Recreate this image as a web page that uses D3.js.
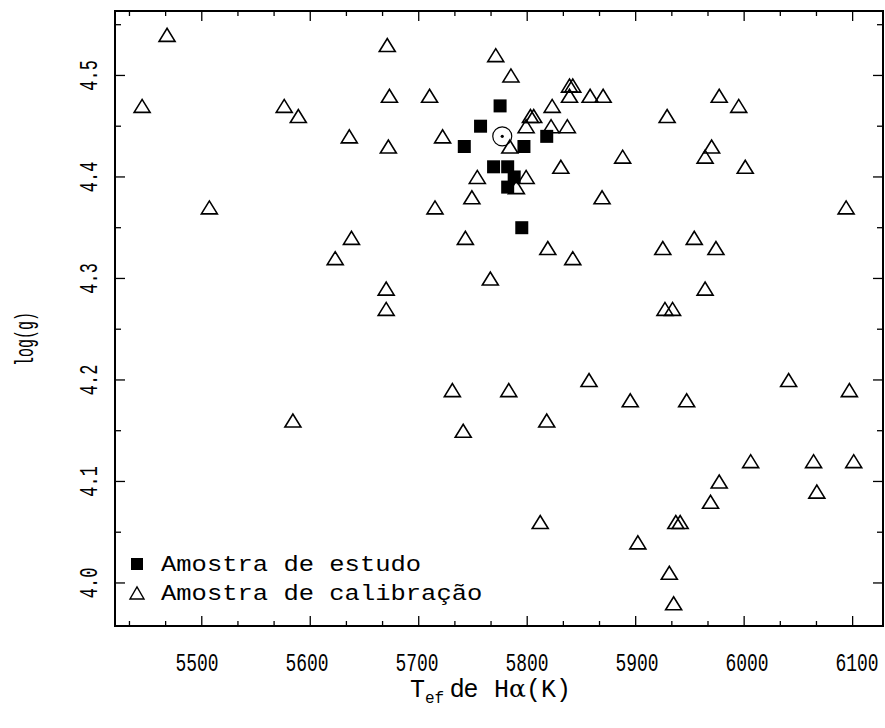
<!DOCTYPE html>
<html>
<head>
<meta charset="utf-8">
<script src="https://cdn.jsdelivr.net/npm/d3@7"></script>
<style>
  body { margin: 0; background: #fff; }
  text { font-family: "Liberation Mono", monospace; fill: #000; }
</style>
</head>
<body>
<div id="chart"></div>
<script>
// amostra de calibração (triângulos)
const calibTeff = [5468, 5445, 5507, 5576, 5589, 5636, 5671, 5673, 5672, 5771,
  5785, 5710, 5839, 5842, 5839, 5858, 5870, 5823, 5803, 5806,
  5799, 5822, 5837, 5929, 5722, 5784, 5888, 5831, 5754, 5799,
  5790, 5749, 5869, 5715, 5977, 5995, 5970, 5964, 6001, 6094,
  5638, 5623, 5670, 5670, 5584, 5743, 5819, 5842, 5766, 5925,
  5954, 5927, 5934, 5731, 5783, 5857, 5895, 5947, 5818, 5974,
  5964, 6041, 6097, 5741, 5812, 5902, 5937, 5941, 5931, 5935,
  6006, 6064, 6101, 5977, 6067, 5969];
const calibLogg = [4.54, 4.47, 4.37, 4.47, 4.46, 4.44, 4.53, 4.48, 4.43, 4.52,
  4.50, 4.48, 4.49, 4.49, 4.48, 4.48, 4.48, 4.47, 4.46, 4.46,
  4.45, 4.45, 4.45, 4.46, 4.44, 4.43, 4.42, 4.41, 4.40, 4.40,
  4.39, 4.38, 4.38, 4.37, 4.48, 4.47, 4.43, 4.42, 4.41, 4.37,
  4.34, 4.32, 4.29, 4.27, 4.16, 4.34, 4.33, 4.32, 4.30, 4.33,
  4.34, 4.27, 4.27, 4.19, 4.19, 4.20, 4.18, 4.18, 4.16, 4.33,
  4.29, 4.20, 4.19, 4.15, 4.06, 4.04, 4.06, 4.06, 4.01, 3.98,
  4.12, 4.12, 4.12, 4.10, 4.09, 4.08];

// amostra de estudo (quadrados)
const studyTeff = [5775, 5757, 5742, 5797, 5818, 5769, 5782, 5788, 5782, 5795];
const studyLogg = [4.47, 4.45, 4.43, 4.43, 4.44, 4.41, 4.41, 4.40, 4.39, 4.35];

// Sol
const sunTeff = 5777, sunLogg = 4.44;

const xMajor = [5500, 5600, 5700, 5800, 5900, 6000, 6100];
const yMajor = [4.0, 4.1, 4.2, 4.3, 4.4, 4.5];
const legendLabels = ["Amostra de estudo", "Amostra de calibração"];

const W = 885, H = 728;
const margin = {top: 11, right: 2, bottom: 102, left: 115};

const svg = d3.select('#chart').append('svg')
    .attr('width', W)
    .attr('height', H);

const x = d3.scaleLinear()
    .domain([5420, 6128])
    .range([margin.left, W - margin.right]);
const y = d3.scaleLinear()
    .domain([3.9576, 4.5635])
    .range([H - margin.bottom, margin.top]);
// the labels under the axis are spaced a little wider than the ticks
const xLab = d3.scaleLinear()
    .domain([5500, 6100])
    .range([197, 857]);

const x0 = margin.left, x1 = W - margin.right;
const y0 = H - margin.bottom, y1 = margin.top;

// ticks (inward, on all four sides)
const xMinor = d3.range(5400, 6130, 100 / 3).filter(v => v > 5420 && v < 6128);
const yMinor = d3.range(3.95, 4.57, 0.05).filter(v => v > 3.958 && v < 4.563);
const isMajorX = v => xMajor.some(m => Math.abs(m - v) < 1);
const isMajorY = v => yMajor.some(m => Math.abs(m - v) < 0.001);

const ticks = svg.append('g').attr('stroke', '#000').attr('stroke-width', 1.3);
xMinor.forEach(v => {
  const len = isMajorX(v) ? 10 : 5;
  ticks.append('line').attr('x1', x(v)).attr('x2', x(v)).attr('y1', y0).attr('y2', y0 - len);
  ticks.append('line').attr('x1', x(v)).attr('x2', x(v)).attr('y1', y1).attr('y2', y1 + len);
});
yMinor.forEach(v => {
  const len = isMajorY(v) ? 10 : 6;
  ticks.append('line').attr('y1', y(v)).attr('y2', y(v)).attr('x1', x0).attr('x2', x0 + len);
  ticks.append('line').attr('y1', y(v)).attr('y2', y(v)).attr('x1', x1).attr('x2', x1 - len);
});

// frame
svg.append('rect')
    .attr('x', x0).attr('y', y1)
    .attr('width', x1 - x0).attr('height', y0 - y1)
    .attr('fill', 'none').attr('stroke', '#000').attr('stroke-width', 2);

// tick labels (narrow, tall digits: squeezed horizontally)
svg.append('g').selectAll('text')
  .data(xMajor)
  .join('text')
    .attr('transform', d => `translate(${xLab(d)},671) scale(0.69,1)`)
    .attr('text-anchor', 'middle')
    .attr('font-size', 26)
    .text(d => d);

svg.append('g').selectAll('text')
  .data(yMajor)
  .join('text')
    .attr('transform', d => `translate(97,${y(d)}) rotate(-90) scale(0.68,1)`)
    .attr('text-anchor', 'middle')
    .attr('font-size', 25)
    .text(d => d.toFixed(1));

// axis titles
const xt = svg.append('text')
    .attr('x', 410)
    .attr('y', 697)
    .attr('font-size', 25);
xt.append('tspan').text('T');
xt.append('tspan').attr('dy', 6).attr('font-size', 16).text('ef');
xt.append('tspan').attr('dy', -6).attr('dx', 6).attr('font-family', 'Liberation Sans').text('de');
xt.append('tspan').attr('dx', 16).text('H');
xt.append('tspan').attr('font-family', 'DejaVu Serif').text('α');
xt.append('tspan').text('(K)');

svg.append('text')
    .attr('transform', `translate(33,339) rotate(-90) scale(0.6,1)`)
    .attr('text-anchor', 'middle')
    .attr('font-size', 25)
    .text('log(g)');

// marks
const tri = 'M-8,6.5L8,6.5L0,-6.5Z';
const plot = svg.append('g');

plot.append('g').selectAll('path')
  .data(d3.range(calibTeff.length))
  .join('path')
    .attr('d', tri)
    .attr('transform', i => `translate(${x(calibTeff[i])},${y(calibLogg[i])})`)
    .attr('fill', 'none')
    .attr('stroke', '#000')
    .attr('stroke-width', 1.6)
    .attr('stroke-linejoin', 'miter');

plot.append('g').selectAll('rect')
  .data(d3.range(studyTeff.length))
  .join('rect')
    .attr('x', i => x(studyTeff[i]) - 6.5)
    .attr('y', i => y(studyLogg[i]) - 6.5)
    .attr('width', 13).attr('height', 13)
    .attr('fill', '#000');

plot.append('circle')
    .attr('cx', x(sunTeff)).attr('cy', y(sunLogg)).attr('r', 9.5)
    .attr('fill', 'none').attr('stroke', '#000').attr('stroke-width', 1.2);
plot.append('circle')
    .attr('cx', x(sunTeff)).attr('cy', y(sunLogg)).attr('r', 1.6)
    .attr('fill', '#000');

// legend
const lg = svg.append('g');
lg.append('rect').attr('x', 131).attr('y', 558).attr('width', 12).attr('height', 12).attr('fill', '#000');
lg.append('path').attr('d', 'M-7,6L7,6L0,-6Z')
    .attr('transform', 'translate(137,593)')
    .attr('fill', 'none').attr('stroke', '#000').attr('stroke-width', 1.4);
lg.selectAll('text.lab')
  .data(legendLabels)
  .join('text')
    .attr('class', 'lab')
    .attr('x', 161)
    .attr('y', (d, i) => 571 + i * 29)
    .attr('font-size', 22)
    .attr('textLength', d => d.length * 15.3)
    .attr('lengthAdjust', 'spacingAndGlyphs')
    .text(d => d);
</script>
</body>
</html>
